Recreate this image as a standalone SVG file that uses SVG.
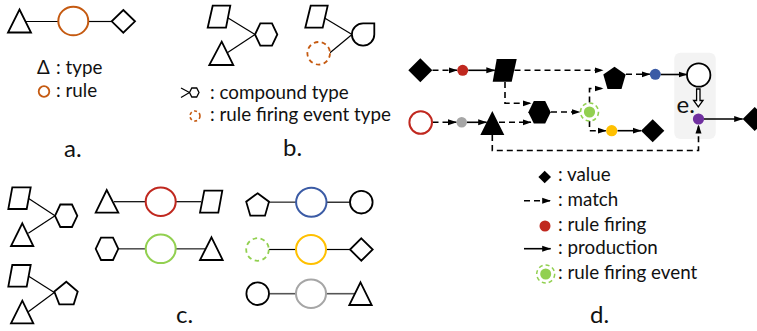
<svg xmlns="http://www.w3.org/2000/svg" width="757" height="331" viewBox="0 0 757 331">
<style>
.s{fill:#fff;stroke:#000;stroke-width:1.8;stroke-linejoin:miter}
.k{fill:#000;stroke:none}
.ln{stroke:#000;stroke-width:1.2;fill:none}
.gl{stroke:#555;stroke-width:1.6;fill:none}
.m{stroke:#000;stroke-width:1.6;fill:none;stroke-dasharray:6 4;marker-end:url(#ah)}
.p{stroke:#000;stroke-width:1.6;fill:none;marker-end:url(#ah)}
.rc{fill:#fff;stroke-width:2}
text{font-family:Lato,"Liberation Sans",sans-serif;fill:#111}
.t{font-size:18.8px}
.lab{font-size:24px}
</style>
<defs>
<marker id="ah" markerWidth="9" markerHeight="7" refX="8.5" refY="3.5" orient="auto" markerUnits="userSpaceOnUse">
<path d="M0,0.5 L9,3.5 L0,6.5 z" fill="#000"/>
</marker>
</defs>

<!-- a. type / rule -->
<g id="a-edges">
<line class="ln" x1="26" y1="21.5" x2="58.3" y2="21.5"/>
<line class="ln" x1="88.3" y1="21.5" x2="111.7" y2="21.5"/>
</g>
<g id="a-type"><polygon class="s" points="19.5,9.5 31,32.5 8,32.5"/></g>
<g id="a-rule"><ellipse class="rc" cx="73.3" cy="21" rx="15" ry="14.3" stroke="#c55a11"/></g>
<g id="a-value"><polygon class="s" points="123.3,10 135,21.3 123.3,32.7 111.7,21.3"/></g>
<g id="a-legend">
<text class="t" x="37" y="74">Δ</text>
<text class="t" x="56" y="74">: type</text>
<circle cx="44" cy="91.5" r="5.3" fill="none" stroke="#c55a11" stroke-width="1.8"/>
<text class="t" x="56" y="97">: rule</text>
<text class="lab" x="64" y="157">a.</text>
</g>

<!-- b. compound type / rule firing event type -->
<g id="b-edges">
<line class="ln" x1="227.7" y1="17.7" x2="255" y2="34.5"/>
<line class="ln" x1="227.3" y1="52.7" x2="255" y2="34.5"/>
<line class="ln" x1="325" y1="18.3" x2="352" y2="34.5"/>
<line class="ln" x1="330" y1="52.7" x2="352" y2="34.5"/>
</g>
<g id="b-para1"><polygon class="s" points="212.7,5.7 230.3,5.7 226,27.7 207.7,27.7"/></g>
<g id="b-tri"><polygon class="s" points="221.7,41.7 233.3,65 209.3,65"/></g>
<g id="b-hex"><polygon class="s" points="255,34.5 260.3,23.3 272,23.3 277.3,34.5 272,45.7 260.3,45.7"/></g>
<g id="b-para2"><polygon class="s" points="310.7,5.7 327.7,5.7 322.7,27.7 305.3,27.7"/></g>
<g id="b-event"><circle cx="318.7" cy="53.3" r="11.3" fill="#fff" stroke="#c55a11" stroke-width="1.8" stroke-dasharray="4.5 3.5"/></g>
<g id="b-drop"><path class="s" d="M363.2,23.3 L374.3,23.3 L374.3,34.5 A11.2,11.2 0 1 1 363.2,23.3 Z"/></g>
<g id="b-legend">
<line class="ln" x1="181" y1="88" x2="189.5" y2="92.5"/>
<line class="ln" x1="181" y1="97.5" x2="189.5" y2="92.5"/>
<polygon points="189.5,92.5 191.8,88 196.7,88 199,92.5 196.7,97 191.8,97" fill="#fff" stroke="#000" stroke-width="1.3"/>
<text class="t" x="210" y="99">: compound type</text>
<circle cx="195" cy="116" r="5" fill="none" stroke="#c55a11" stroke-width="1.6" stroke-dasharray="3 2.5"/>
<text class="t" x="210" y="121">: rule firing event type</text>
<text class="lab" x="283" y="156">b.</text>
</g>

<!-- c. rule signatures -->
<g id="c-edges">
<line class="ln" x1="28.3" y1="198.3" x2="55" y2="215.8"/>
<line class="ln" x1="28.3" y1="233.3" x2="55" y2="215.8"/>
<line class="ln" x1="28.3" y1="276" x2="54.3" y2="292.5"/>
<line class="ln" x1="28.3" y1="311.7" x2="54.3" y2="292.5"/>
<line class="ln" x1="114" y1="201.7" x2="145.7" y2="201.7"/>
<line class="ln" x1="175.7" y1="201.7" x2="201" y2="201.7"/>
<line class="gl" x1="118.3" y1="248.8" x2="145.7" y2="248.8"/>
<line class="gl" x1="175.7" y1="248.8" x2="205" y2="248.8"/>
<line class="gl" x1="269" y1="202.2" x2="296" y2="202.2"/>
<line class="ln" x1="326.7" y1="202.2" x2="350" y2="202.2"/>
<line class="ln" x1="269" y1="249.5" x2="296" y2="249.5"/>
<line class="ln" x1="326" y1="249.5" x2="350" y2="249.5"/>
<line class="gl" x1="269.3" y1="293.7" x2="296" y2="293.7"/>
<line class="gl" x1="326" y1="293.7" x2="355" y2="293.7"/>
</g>
<g id="c-para1"><polygon class="s" points="12.3,187.3 30.7,187.3 26.7,209 8.3,209"/></g>
<g id="c-tri1"><polygon class="s" points="22.3,223.3 33.3,246 11,246"/></g>
<g id="c-hex1"><polygon class="s" points="55,215.8 60.3,204.5 72,204.5 77.3,215.8 72,227 60.3,227"/></g>
<g id="c-para2"><polygon class="s" points="12.3,265 30.7,265 26.7,286.7 8.3,286.7"/></g>
<g id="c-tri2"><polygon class="s" points="22.3,300.7 33.3,323.3 11,323.3"/></g>
<g id="c-pent1"><polygon class="s" points="66.3,281.7 77.7,291.5 73.7,304.3 59.3,304.3 54.3,291.5"/></g>
<g id="c-r1-tri"><polygon class="s" points="106.7,190 118.3,212.7 95.7,212.7"/></g>
<g id="c-r1-rule"><ellipse class="rc" cx="160.7" cy="201.7" rx="15" ry="14.3" stroke="#c0281f"/></g>
<g id="c-r1-para"><polygon class="s" points="204.3,190.7 222.3,190.7 218.3,212.7 200,212.7"/></g>
<g id="c-r2-hex"><polygon class="s" points="95.7,248.8 101,237.6 113,237.6 118.3,248.8 113,260 101,260"/></g>
<g id="c-r2-rule"><ellipse class="rc" cx="160.7" cy="248.8" rx="15" ry="14.3" stroke="#92d050"/></g>
<g id="c-r2-tri"><polygon class="s" points="211.5,237.3 222.7,260 200,260"/></g>
<g id="c-r3-pent"><polygon class="s" points="257.6,193.3 269,201.7 265,215.7 250.3,215.7 246.2,201.7"/></g>
<g id="c-r3-rule"><ellipse class="rc" cx="311.3" cy="202.2" rx="15.2" ry="14.5" stroke="#3b5ba5"/></g>
<g id="c-r3-circ"><circle class="s" cx="361.3" cy="202.2" r="11.3"/></g>
<g id="c-r4-event"><circle cx="257.5" cy="249.5" r="11.3" fill="#fff" stroke="#92d050" stroke-width="1.8" stroke-dasharray="4.5 3.5"/></g>
<g id="c-r4-rule"><ellipse class="rc" cx="311" cy="249.5" rx="15" ry="14.5" stroke="#ffc000"/></g>
<g id="c-r4-val"><polygon class="s" points="361.3,238.3 372.7,249.5 361.3,260.7 350,249.5"/></g>
<g id="c-r5-circ"><circle class="s" cx="257.7" cy="293.7" r="11.3"/></g>
<g id="c-r5-rule"><ellipse class="rc" cx="311" cy="293.7" rx="15" ry="14.3" stroke="#a6a6a6"/></g>
<g id="c-r5-tri"><polygon class="s" points="360.5,282.3 371.7,305 349.3,305"/></g>
<text class="lab" x="176" y="323">c.</text>

<!-- d. execution trace -->
<g id="d-e-box"><rect x="674.3" y="52.7" width="41.4" height="86.3" rx="6" fill="#f3f3f3"/></g>
<g id="d-connectors">
<line class="m" x1="432.5" y1="70.3" x2="457" y2="70.3"/>
<line class="p" x1="468.2" y1="70.3" x2="494.8" y2="70.3"/>
<line class="m" x1="514.5" y1="70.3" x2="603" y2="70.3"/>
<polyline class="m" points="505,82 505,103.3 531,103.3"/>
<line class="m" x1="432.5" y1="122.3" x2="456.5" y2="122.3"/>
<line class="p" x1="467" y1="122.3" x2="486.7" y2="122.3"/>
<line class="m" x1="499" y1="122.3" x2="531" y2="122.3"/>
<polyline class="m" points="492.3,135 492.3,150.5 698.5,150.5 698.5,125"/>
<line class="m" x1="551" y1="112" x2="580" y2="112"/>
<polyline class="m" points="589.5,102.5 589.5,88.5 603,88.5"/>
<polyline class="m" points="589.5,121 589.5,130.7 606,130.7"/>
<line class="p" x1="617.5" y1="130.7" x2="641" y2="130.7"/>
<line class="m" x1="626" y1="74.3" x2="650" y2="74.3"/>
<line class="p" x1="660.5" y1="74.5" x2="687" y2="74.5"/>
<line class="p" x1="704" y1="119" x2="742.7" y2="119"/>
<path d="M696.6,89 L700,89 L700,100.5 L703,100.5 L698.3,107 L693.6,100.5 L696.6,100.5 Z" fill="#fff" stroke="#000" stroke-width="1.3"/>
</g>
<g id="d-val1"><polygon class="k" points="420.3,58.3 432.3,70.3 420.3,82.3 408.3,70.3"/></g>
<g id="d-fire-red"><circle cx="462.7" cy="70.3" r="5.5" fill="#c0281f"/></g>
<g id="d-para"><polygon class="k" points="496.7,59 516.7,59 511.7,81.7 492.7,81.7"/></g>
<g id="d-rule-red"><circle cx="420.7" cy="122.5" r="11.3" fill="#fff" stroke="#c0281f" stroke-width="2"/></g>
<g id="d-fire-gray"><circle cx="461.7" cy="122.3" r="5.3" fill="#a6a6a6"/></g>
<g id="d-tri"><polygon class="k" points="492.3,111 504.3,135 480.3,135"/></g>
<g id="d-hex"><polygon class="k" points="528.3,112.3 533.8,101 545.2,101 550.7,112.3 545.2,123.6 533.8,123.6"/></g>
<g id="d-event"><circle cx="589.5" cy="112" r="9" fill="none" stroke="#92d050" stroke-width="1.6" stroke-dasharray="4 3"/><circle cx="589.5" cy="112" r="5.6" fill="#92d050"/></g>
<g id="d-pent"><polygon class="k" points="614.5,66.7 625.7,74.5 621.5,89 607.5,89 603.3,74.5"/></g>
<g id="d-fire-yellow"><circle cx="611.7" cy="130.7" r="5.6" fill="#ffc000"/></g>
<g id="d-val2"><polygon class="k" points="652.7,119.3 664.3,130.8 652.7,142.3 641,130.8"/></g>
<g id="d-fire-blue"><circle cx="655.3" cy="74.3" r="5.5" fill="#3b5ba5"/></g>
<g id="d-circ"><circle class="s" cx="698.7" cy="75" r="11.7"/></g>
<g id="d-fire-purple"><circle cx="698.5" cy="119" r="5.6" fill="#7030a0"/></g>
<g id="d-val3"><polygon class="k" points="754.7,107 766.7,119 754.7,131 742.7,119"/></g>
<text class="lab" x="676.5" y="112.5">e.</text>

<g id="d-legend">
<polygon class="k" points="544.7,170.7 551,177 544.7,183.3 538.4,177"/>
<text class="t" x="558" y="181">: value</text>
<line class="m" x1="524" y1="200.7" x2="550.7" y2="200.7" stroke-dasharray="5 4"/>
<text class="t" x="558" y="206">: match</text>
<circle cx="545" cy="226" r="5.5" fill="#c0281f"/>
<text class="t" x="558" y="231">: rule firing</text>
<line class="p" x1="524" y1="248.7" x2="550.7" y2="248.7"/>
<text class="t" x="558" y="254">: production</text>
<circle cx="545.7" cy="274" r="9" fill="none" stroke="#92d050" stroke-width="1.5" stroke-dasharray="4 3"/>
<circle cx="545.7" cy="274" r="5.5" fill="#92d050"/>
<text class="t" x="558" y="279">: rule firing event</text>
<text class="lab" x="590" y="323">d.</text>
</g>
</svg>
